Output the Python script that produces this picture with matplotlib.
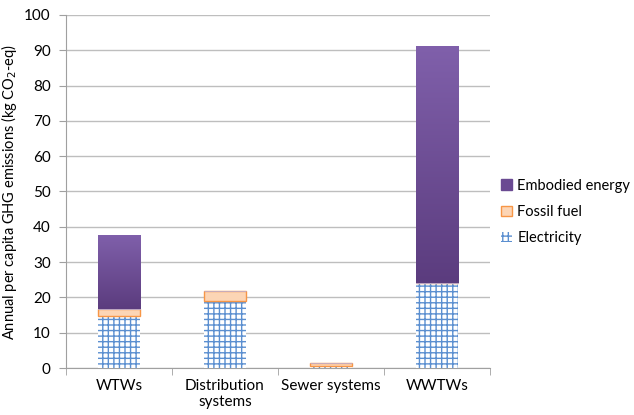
import numpy as np
import matplotlib
matplotlib.use("Agg")
import matplotlib.pyplot as plt
from matplotlib.patches import Patch

plt.rcParams['font.family'] = ['Lato', 'DejaVu Sans']
plt.rcParams['hatch.linewidth'] = 1.0

categories = ["WTWs", "Distribution\nsystems", "Sewer systems", "WWTWs"]
electricity = [14.8, 19.1, 0.7, 24.0]
fossil_fuel = [1.8, 2.8, 0.6, 0.0]
embodied = [21.2, 0.0, 0.0, 67.3]

fig = plt.figure(figsize=(6.34, 4.15), dpi=100)
ax = fig.add_axes([66/634, 1 - 368/415, (490-66)/634, (368-15)/415])

x = np.arange(len(categories))
w = 0.405
elec = np.array(electricity)
foss = np.array(fossil_fuel)
emb = np.array(embodied)

# electricity: blue brick-ish hatch on white
ax.bar(x, elec, w, color="white", edgecolor="#5B8FD0", hatch="+++", linewidth=0, zorder=3)
# fossil fuel
ax.bar(x, foss, w, bottom=elec, color="#FCD5B5", edgecolor="#F79646", linewidth=1.0, zorder=3)
# embodied energy with vertical gradient
bars = ax.bar(x, emb, w, bottom=elec + foss, color="#6A4A92", edgecolor="#BFB0D0", linewidth=0.6, zorder=3)
grad = np.linspace(0, 1, 256).reshape(-1, 1)
cmap = matplotlib.colors.LinearSegmentedColormap.from_list("pur", ["#5B3C7E", "#8060AB"])
for b in bars:
    if b.get_height() <= 0:
        continue
    x0, y0 = b.get_x(), b.get_y()
    im = ax.imshow(grad, cmap=cmap, aspect="auto", origin="lower",
                   extent=[x0, x0 + b.get_width(), y0, y0 + b.get_height()], zorder=3.5)
    im.set_clip_path(b)

ax.set_xlim(-0.5, len(categories) - 0.5)
ax.set_ylim(0, 100)
ax.set_yticks(np.arange(0, 101, 10))
ax.set_xticks(x)
ax.set_xticklabels(categories, fontsize=11)
ax.set_xticks(np.arange(-0.5, len(categories), 1), minor=True)
ax.tick_params(axis="x", which="major", length=0, pad=8)
ax.tick_params(axis="x", which="minor", length=5, color="#A0A0A0")
ax.tick_params(axis="y", length=5, color="#A0A0A0", labelsize=11, pad=6)
ax.yaxis.grid(True, color="#BEBEBE", linewidth=1.0, zorder=0)
ax.set_axisbelow(True)
for s in ["top", "right"]:
    ax.spines[s].set_visible(False)
for s in ["left", "bottom"]:
    ax.spines[s].set_color("#A0A0A0")

ax.set_ylabel("Annual per capita GHG emissions (kg CO$_2$-eq)", fontsize=10.5)

handles = [Patch(facecolor="#6A4A92", edgecolor="#6A4A92"),
           Patch(facecolor="#FCD5B5", edgecolor="#F79646"),
           Patch(facecolor="white", edgecolor="#5B8FD0", hatch="+++", linewidth=0)]
fig.legend(handles, ["Embodied energy", "Fossil fuel", "Electricity"], loc="center left",
           bbox_to_anchor=(497/634, 1 - 212/415), frameon=False, fontsize=10.5,
           handlelength=0.7, handleheight=0.7, handletextpad=0.4, labelspacing=0.85,
           borderaxespad=0, borderpad=0.3)

fig.savefig("out.png", dpi=100)
